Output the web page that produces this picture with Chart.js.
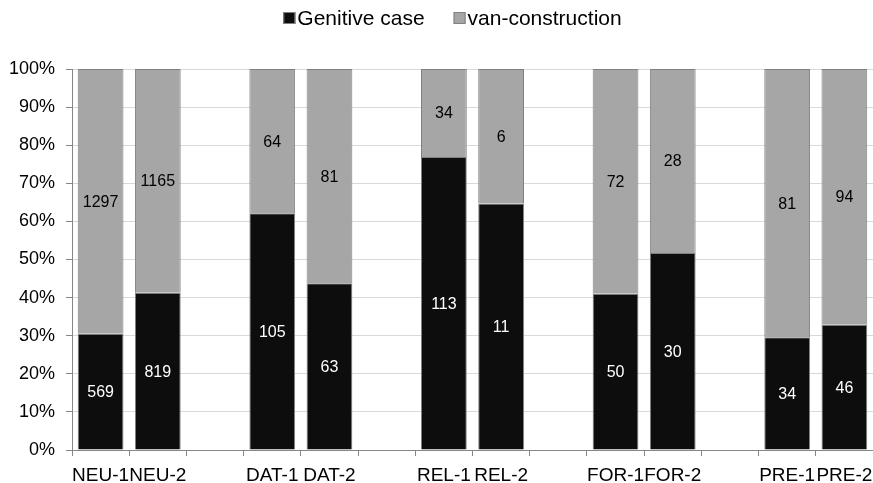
<!DOCTYPE html>
<html>
<head>
<meta charset="utf-8">
<script src="https://cdn.jsdelivr.net/npm/chart.js@4"></script>
<style>
  html, body { margin: 0; padding: 0; background: #fff; }
  #wrap { width: 873px; height: 483px; }
</style>
</head>
<body>
<div id="wrap"><canvas id="myChart"></canvas></div>
<script>
// categories ('' = empty gap slot)
const categories = ['NEU-1', 'NEU-2', '', 'DAT-1', 'DAT-2', '', 'REL-1', 'REL-2', '', 'FOR-1', 'FOR-2', '', 'PRE-1', 'PRE-2'];
const genitiveCounts = [569, 819, null, 105, 63, null, 113, 11, null, 50, 30, null, 34, 46];
const vanCounts = [1297, 1165, null, 64, 81, null, 34, 6, null, 72, 28, null, 81, 94];
const yTicks = [0, 10, 20, 30, 40, 50, 60, 70, 80, 90, 100];

function pct(a, b) {
    return a.map((v, i) => v == null ? null : v / (v + b[i]) * 100);
}

const FONT = '"Liberation Sans", Arial, sans-serif';
Chart.defaults.font.family = FONT;
Chart.defaults.color = '#000';

// value labels in the middle of each segment + legend on top
const countLabels = {
    id: 'countLabels',
    afterDatasetsDraw(chart) {
        const ctx = chart.ctx;
        ctx.save();
        ctx.font = '16px ' + FONT;
        ctx.textAlign = 'center';
        ctx.textBaseline = 'middle';
        chart.data.datasets.forEach((ds, di) => {
            const meta = chart.getDatasetMeta(di);
            meta.data.forEach((bar, i) => {
                const n = ds.counts[i];
                if (n == null) return;
                ctx.fillStyle = ds.labelColor;
                ctx.fillText(String(n), bar.x, (bar.y + bar.base) / 2 + 1);
            });
        });
        ctx.restore();
    },
    afterDraw(chart) {
        const ctx = chart.ctx;
        const ds = chart.data.datasets;
        const box = 12, gap = 2, itemGap = 29, y = 18;
        ctx.save();
        ctx.font = '21px ' + FONT;
        ctx.textBaseline = 'middle';
        ctx.textAlign = 'left';
        const widths = ds.map(d => ctx.measureText(d.label).width);
        let total = widths.reduce((s, w) => s + box + gap + w, 0) + itemGap * (ds.length - 1);
        let x = chart.width / 2 + 16 - total / 2;
        ds.forEach((d, i) => {
            ctx.fillStyle = d.backgroundColor;
            ctx.fillRect(x, y - box / 2, box, box);
            ctx.strokeStyle = d.borderColor;
            ctx.lineWidth = 1;
            ctx.strokeRect(x + 0.5, y - box / 2 + 0.5, box - 1, box - 1);
            ctx.fillStyle = '#000';
            ctx.fillText(d.label, x + box + gap, y + 1);
            x += box + gap + widths[i] + itemGap;
        });
        ctx.restore();
    }
};

const data = {
    labels: categories,
    datasets: [{
        label: 'Genitive case',
        data: pct(genitiveCounts, vanCounts),
        counts: genitiveCounts,
        labelColor: '#fff',
        backgroundColor: '#0d0d0d',
        borderColor: '#808080',
        borderWidth: 1,
        barPercentage: 0.8,
        categoryPercentage: 1.0,
    }, {
        label: 'van-construction',
        data: pct(vanCounts, genitiveCounts),
        counts: vanCounts,
        labelColor: '#000',
        backgroundColor: '#a6a6a6',
        borderColor: '#808080',
        borderWidth: 1,
        barPercentage: 0.8,
        categoryPercentage: 1.0,
    }],
};

const config = {
    type: 'bar',
    data: data,
    options: {
        responsive: true,
        maintainAspectRatio: false,
        animation: false,
        layout: { padding: { left: 0, right: 0, top: 69, bottom: 0 } },
        plugins: {
            legend: { display: false },
            tooltip: { enabled: false },
        },
        scales: {
            x: {
                stacked: true,
                afterFit(scale) {
                    scale.height = 33;
                    scale.paddingLeft = 0;
                    scale.paddingRight = 0;
                },
                grid: {
                    offset: true,
                    drawOnChartArea: false,
                    drawTicks: true,
                    tickLength: 6,
                    tickColor: '#868686',
                },
                border: { color: '#868686', width: 1 },
                ticks: {
                    font: { size: 19 },
                    color: '#000',
                    maxRotation: 0,
                    autoSkip: false,
                    padding: 8,
                },
            },
            y: {
                stacked: true,
                min: 0,
                max: 100,
                afterBuildTicks(scale) {
                    scale.ticks = yTicks.map(v => ({ value: v }));
                },
                afterFit(scale) {
                    scale.width = 72;
                },
                grid: {
                    color: '#d9d9d9',
                    tickColor: '#868686',
                    tickLength: 6,
                },
                border: { color: '#868686', width: 1 },
                ticks: {
                    font: { size: 18 },
                    color: '#000',
                    padding: 11,
                    callback: v => v + '%',
                },
            },
        },
    },
    plugins: [countLabels],
};

const ctx = document.getElementById('myChart').getContext('2d');
const myChart = new Chart(ctx, config);
</script>
</body>
</html>
